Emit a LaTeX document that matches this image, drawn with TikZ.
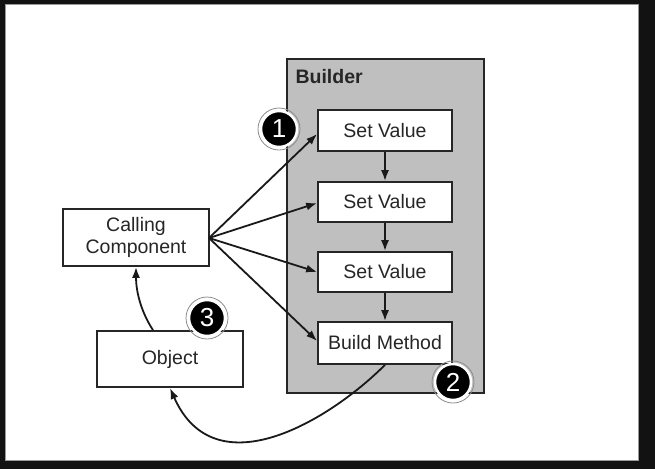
\documentclass[tikz,border=0pt]{standalone}
\usepackage{fontspec}
\setmainfont{Liberation Sans}
\usetikzlibrary{arrows.meta}
\begin{document}
\begin{tikzpicture}[x=1pt,y=-1pt,
  box/.style={draw=black!85,line width=1.7pt,fill=white,font=\fontsize{19.5}{22}\selectfont,text=black!85,align=center,inner sep=0pt},
  conn/.style={line width=1.8pt,draw=black!90,-{Latex[length=11pt,width=8pt]}},
  badge/.style={circle,fill=black,draw=white,line width=2.5pt,minimum size=36pt,inner sep=0pt,text=white,font=\fontsize{26}{26}\selectfont},
  ring/.style={circle,draw=black!45,line width=0.8pt,minimum size=42pt,inner sep=0pt}
]
\useasboundingbox (0,0) rectangle (655,469);
\fill[black!93] (0,0) rectangle (655,469);
\fill[white] (5,4) rectangle (638,460);
\draw[black!40,line width=0.6pt] (5,4) rectangle (638,460);
% builder
\node[draw=black!85,fill=black!25,line width=1.7pt,minimum width=197pt,minimum height=334pt,inner sep=0pt] (builder) at (385.5,226) {};
\node[anchor=west,font=\bfseries\fontsize{19.5}{21}\selectfont,text=black!85] (blabel) at (292,77) {Builder};
\node[box,minimum width=134pt,minimum height=41pt] (sv1) at (385,130.5) {Set Value};
\node[box,minimum width=134pt,minimum height=40pt] (sv2) at (385,202) {Set Value};
\node[box,minimum width=134pt,minimum height=40pt] (sv3) at (385,272) {Set Value};
\node[box,minimum width=134pt,minimum height=42pt] (bm) at (385,343) {Build Method};
\node[box,minimum width=146pt,minimum height=57pt] (cc) at (136,237.5) {Calling\\Component};
\node[box,minimum width=146pt,minimum height=56pt] (obj) at (170,359) {Object};
% connectors
\coordinate (src) at (209,238);
\draw[conn] (src) -- (sv1.west |- 0,134);
\draw[conn] (src) -- (sv2.west |- 0,203);
\draw[conn] (src) -- (sv3.west |- 0,272);
\draw[conn] (src) -- (bm.west |- 0,341);
\draw[conn] (sv1.south) -- (sv2.north);
\draw[conn] (sv2.south) -- (sv3.north);
\draw[conn] (sv3.south) -- (bm.north);
\draw[conn] (bm.south) .. controls (330,420) and (215,490) .. (obj.south |- 0,388);
\draw[conn] (obj.north -| 153,0) .. controls (140,310) and (136,290) .. (cc.south);
% badges
\node[ring] (r1) at (279,129) {};
\node[badge] (b1) at (279,129) {1};
\node[ring] (r2) at (453,382) {};
\node[badge] (b2) at (453,382) {2};
\node[ring] (r3) at (207,318) {};
\node[badge] (b3) at (207,318) {3};
\end{tikzpicture}
\end{document}
